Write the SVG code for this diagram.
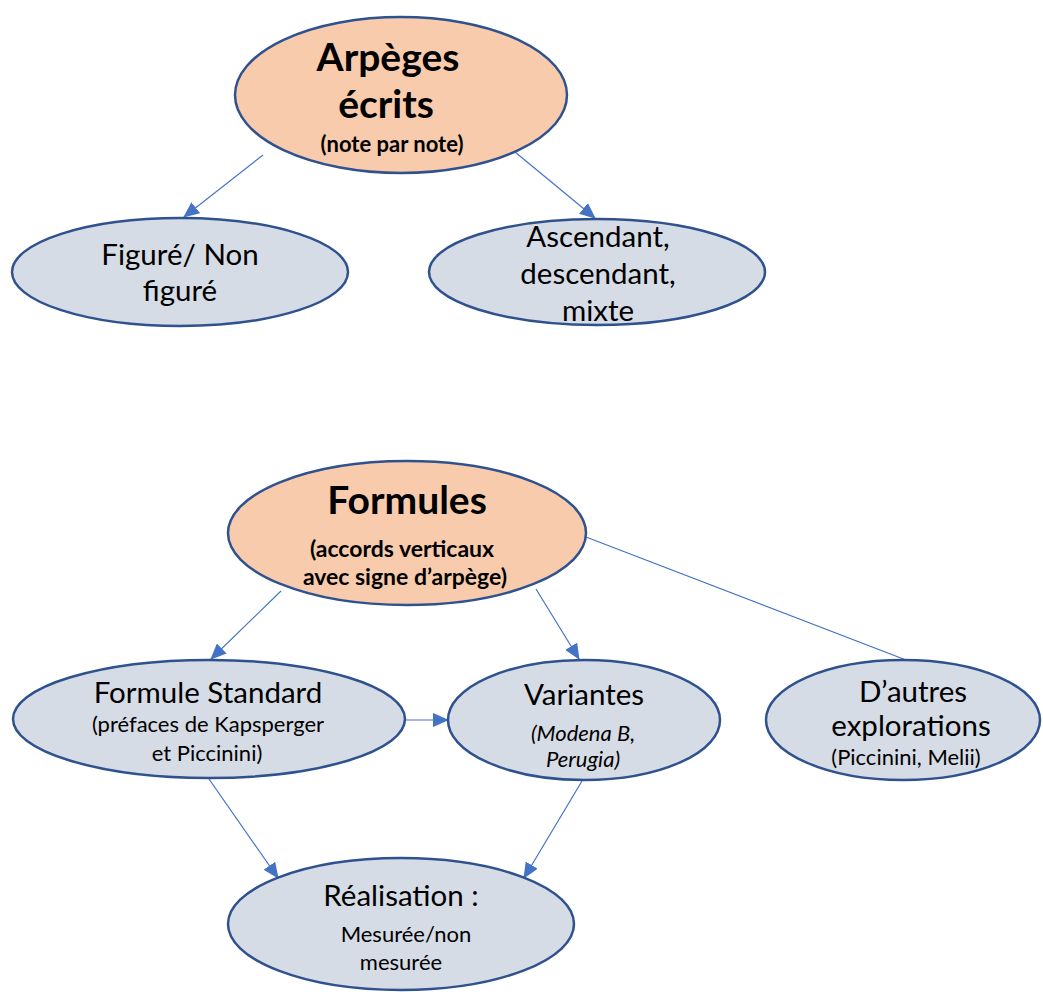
<svg xmlns="http://www.w3.org/2000/svg" width="1043" height="992" viewBox="0 0 1043 992">
<defs>
<marker id="ah" markerWidth="16" markerHeight="14" refX="15" refY="7" orient="auto" markerUnits="userSpaceOnUse">
<path d="M0,0 L16,7 L0,14 Z" fill="#4472C4"/>
</marker>
<style>
.org{fill:#F8CBAD;stroke:#2F528F;stroke-width:2.5}
.gry{fill:#D6DCE5;stroke:#2F528F;stroke-width:2.5}
.cn{stroke:#4472C4;stroke-width:1.2;fill:none}
text{font-family:Lato,"Liberation Sans",sans-serif;fill:#000;text-anchor:middle}
.t{font-weight:bold;font-size:39px}
.s{font-weight:bold;font-size:22px}
.s2{font-weight:bold;font-size:23px}
.b{font-size:29.5px}
.m{font-size:22px}
.i{font-size:22px;font-style:italic}
</style>
</defs>
<rect width="1043" height="992" fill="#fff"/>
<g id="connectors">
<line class="cn" x1="263" y1="155" x2="184" y2="217" marker-end="url(#ah)"/>
<line class="cn" x1="515" y1="152" x2="595" y2="218" marker-end="url(#ah)"/>
<line class="cn" x1="281" y1="591" x2="211" y2="659" marker-end="url(#ah)"/>
<line class="cn" x1="536" y1="589" x2="579" y2="659" marker-end="url(#ah)"/>
<line class="cn" x1="586" y1="537" x2="906" y2="660"/>
<line class="cn" x1="405" y1="720" x2="448" y2="720" marker-end="url(#ah)"/>
<line class="cn" x1="209" y1="779" x2="278" y2="878" marker-end="url(#ah)"/>
<line class="cn" x1="582" y1="781" x2="524" y2="878" marker-end="url(#ah)"/>
</g>
<g id="n-arpeges">
<ellipse class="org" cx="401" cy="95" rx="166" ry="78"/>
<text class="t" x="388" y="71">Arpèges</text>
<text class="t" x="386" y="118">écrits</text>
<text class="s" x="392" y="152">(note par note)</text>
</g>
<g id="n-figure">
<ellipse class="gry" cx="180" cy="272" rx="168" ry="54"/>
<text class="b" x="180" y="265">Figuré/ Non</text>
<text class="b" x="180" y="301">figuré</text>
</g>
<g id="n-ascendant">
<ellipse class="gry" cx="597" cy="272" rx="168" ry="53"/>
<text class="b" x="598" y="247">Ascendant,</text>
<text class="b" x="598" y="284">descendant,</text>
<text class="b" x="598" y="321">mixte</text>
</g>
<g id="n-formules">
<ellipse class="org" cx="407" cy="533" rx="179" ry="72"/>
<text class="t" x="407" y="514">Formules</text>
<text class="s2" x="402" y="557">(accords verticaux</text>
<text class="s2" x="405" y="585">avec signe d’arpège)</text>
</g>
<g id="n-standard">
<ellipse class="gry" cx="209" cy="719" rx="196" ry="59"/>
<text class="b" x="208" y="703">Formule Standard</text>
<text class="m" x="208" y="732">(préfaces de Kapsperger</text>
<text class="m" x="207" y="761">et Piccinini)</text>
</g>
<g id="n-variantes">
<ellipse class="gry" cx="584" cy="720" rx="136" ry="60"/>
<text class="b" x="584" y="705">Variantes</text>
<text class="i" x="583" y="741">(Modena B,</text>
<text class="i" x="583" y="767">Perugia)</text>
</g>
<g id="n-autres">
<ellipse class="gry" cx="903" cy="720" rx="137" ry="60"/>
<text class="b" x="913" y="702">D’autres</text>
<text class="b" x="911" y="736">explorations</text>
<text class="m" x="906" y="765">(Piccinini, Melii)</text>
</g>
<g id="n-realisation">
<ellipse class="gry" cx="401" cy="924" rx="173" ry="66"/>
<text class="b" x="401" y="906">Réalisation :</text>
<text class="m" x="406" y="942">Mesurée/non</text>
<text class="m" x="401" y="970">mesurée</text>
</g>
</svg>
